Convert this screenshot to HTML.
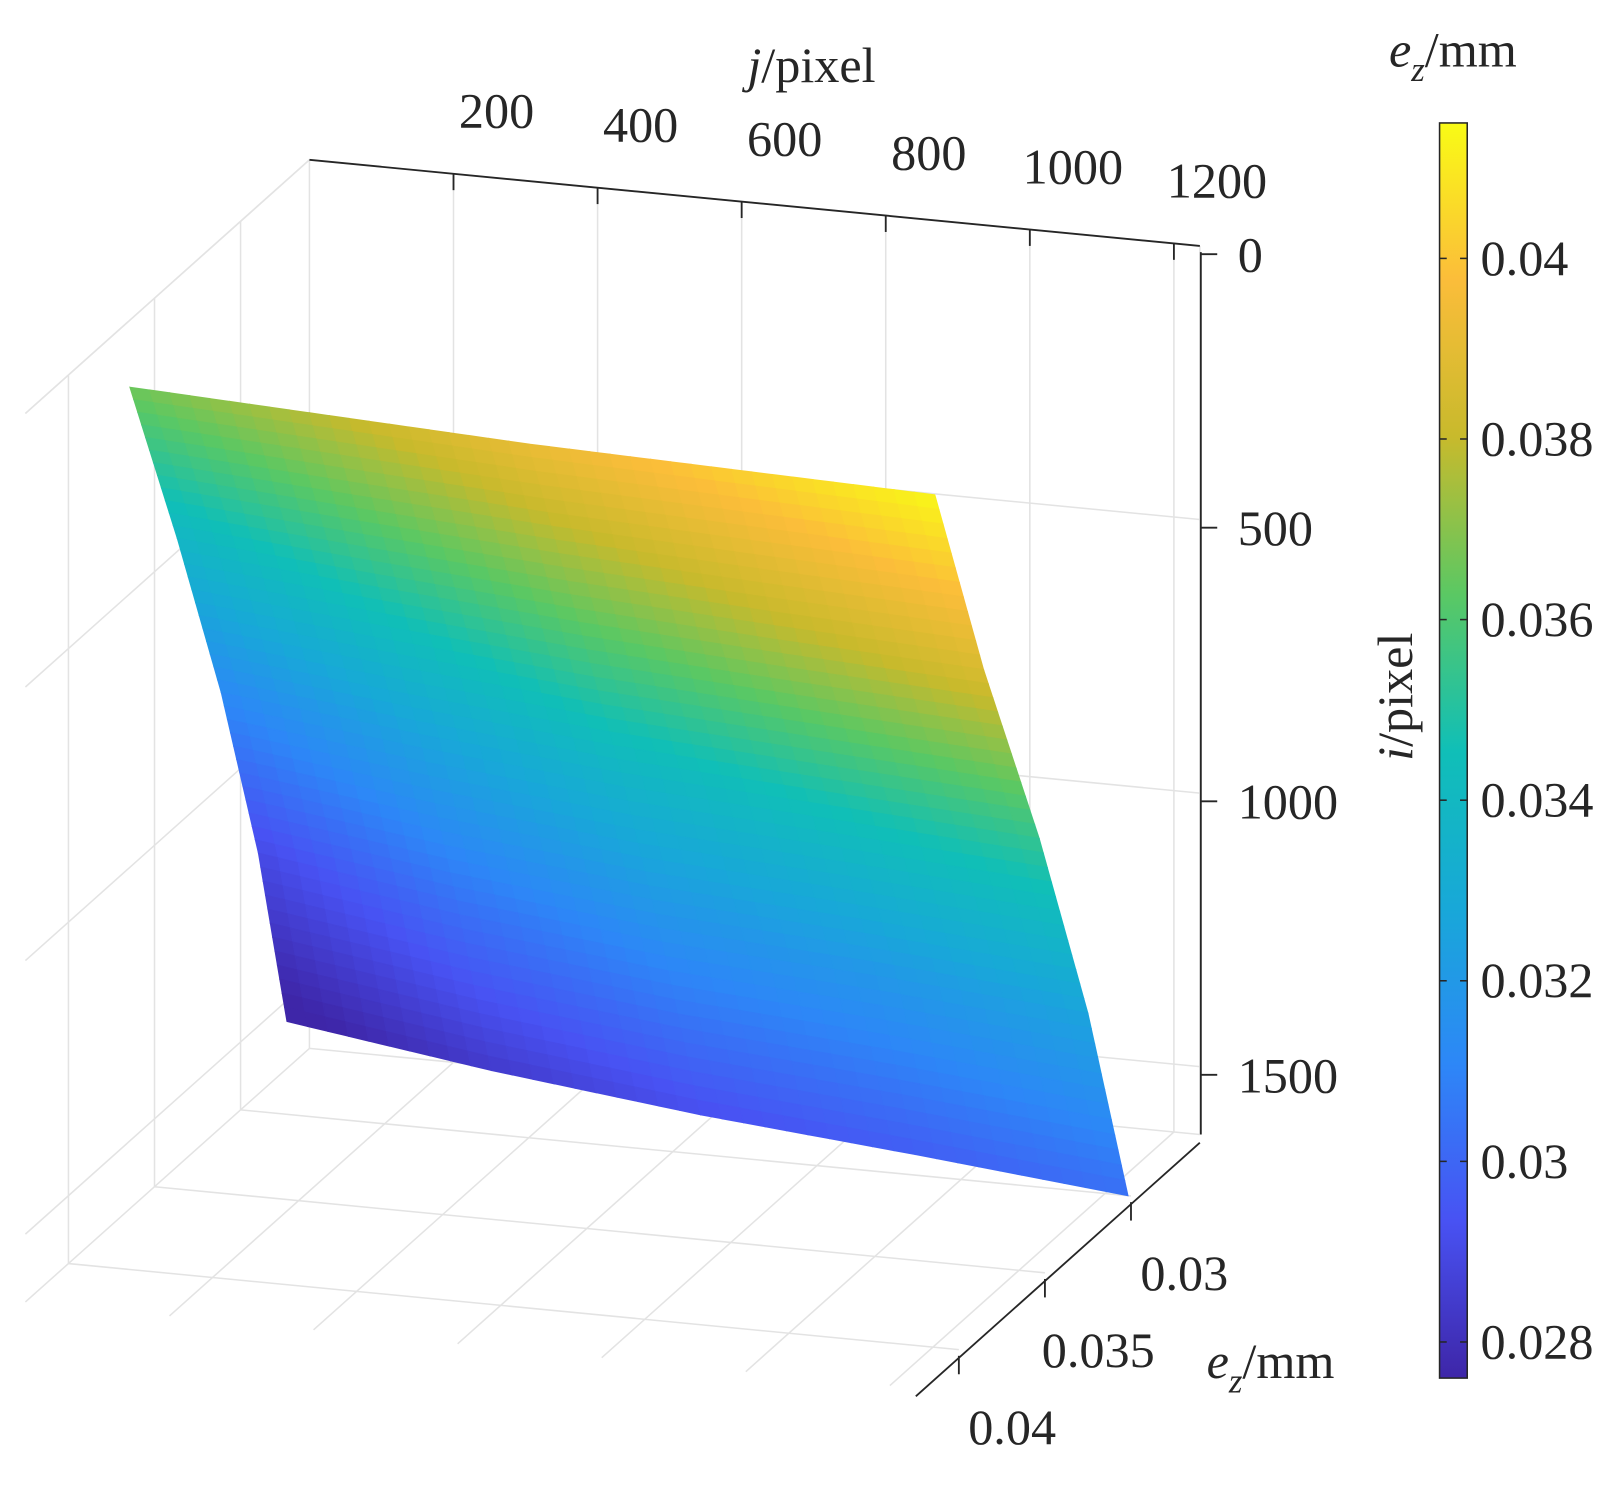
<!DOCTYPE html>
<html><head><meta charset="utf-8"><style>
html,body{margin:0;padding:0;background:#fff;}
svg text{font-family:"Liberation Serif",serif;font-size:49px;fill:#262626;}
</style></head><body>
<svg id="chart" width="1604" height="1481" viewBox="0 0 1604 1481" xmlns="http://www.w3.org/2000/svg">
<defs>
<linearGradient id="parula" x1="0" y1="1" x2="0" y2="0">
<stop offset="0" stop-color="#3e26a8"/><stop offset="0.125" stop-color="#4852f3"/>
<stop offset="0.25" stop-color="#2d87f7"/><stop offset="0.375" stop-color="#18a8d8"/>
<stop offset="0.5" stop-color="#10bfb7"/><stop offset="0.625" stop-color="#5bc863"/>
<stop offset="0.75" stop-color="#c8ba2c"/><stop offset="0.875" stop-color="#fbbd3a"/>
<stop offset="1" stop-color="#f9fb15"/>
</linearGradient>
</defs>
<g transform="scale(1.0246)">
<g id="grid"></g>
<g id="surf"></g>
<g id="axes"></g>
<g id="cbar"></g>
</g>
</svg>
<script>
const jTicks=[200,400,600,800,1000,1200];
const iTicks=[0,500,1000,1500];
const eTicks=[0.03,0.035,0.04];
const eTickLabels=["0.03","0.035","0.04"];
const cbTicks=[0.028,0.03,0.032,0.034,0.036,0.038,0.04];
const cbTickLabels=["0.028","0.03","0.032","0.034","0.036","0.038","0.04"];
const gridI=[0,400,800,1200,1600];
const gridJ=[0,309,618,927,1236];
const ezRows=[
[0.0366,0.0379,0.0392,0.0403,0.0414],
[0.0338,0.0352,0.0365,0.0376,0.0386],
[0.0312,0.0326,0.0338,0.0346,0.0354],
[0.0290,0.0304,0.0314,0.0319,0.0326],
[0.0273,0.0284,0.0292,0.0297,0.0303]];
const jMax=1236,iMax=1624,eMin=0.026,eMax=0.0425,cMin=0.0276,cMax=0.0415;
const NS="http://www.w3.org/2000/svg";
function P(j,i,e){return [302+0.7031*j-16800*(e-eMin),156+0.068*j+0.534*i+15000*(e-eMin)];}
function mk(tag,parent,attrs){const el=document.createElementNS(NS,tag);for(const k in attrs)el.setAttribute(k,attrs[k]);parent.appendChild(el);return el;}
function line(parent,a,b,stroke,w,name){const el=mk('line',parent,{x1:a[0],y1:a[1],x2:b[0],y2:b[1],stroke:stroke,'stroke-width':w});

return el;}
function text(parent,x,y,str,name,anchor){const el=mk('text',parent,{x:x,y:y,'text-anchor':anchor||'start'});el.textContent=str;

return el;}
const G=document.getElementById('grid'),S=document.getElementById('surf'),A=document.getElementById('axes'),C=document.getElementById('cbar');
const gc='#e3e3e3';
jTicks.forEach(j=>line(G,P(j,0,eMin),P(j,iMax,eMin),gc,1.5,'grid-line'));
iTicks.forEach(i=>line(G,P(0,i,eMin),P(jMax,i,eMin),gc,1.5,'grid-line'));
eTicks.forEach(e=>line(G,P(0,0,e),P(0,iMax,e),gc,1.5,'grid-line'));
iTicks.forEach(i=>line(G,P(0,i,eMin),P(0,i,eMax),gc,1.5,'grid-line'));
jTicks.forEach(j=>line(G,P(j,iMax,eMin),P(j,iMax,eMax),gc,1.5,'grid-line'));
eTicks.forEach(e=>line(G,P(0,iMax,e),P(jMax,iMax,e),gc,1.5,'grid-line'));
line(G,P(0,iMax,eMin),P(0,iMax,eMax),gc,1.5,'grid-line');
line(G,P(0,0,eMin),P(0,iMax,eMin),gc,1.5,'grid-line');
line(G,P(jMax,0,eMin),P(jMax,iMax,eMin),gc,1.5,'grid-line');
line(G,P(0,iMax,eMin),P(jMax,iMax,eMin),gc,1.5,'grid-line');
line(G,P(0,0,eMin),P(0,0,eMax),gc,1.5,'grid-line');
const cStops=[[62,38,168],[72,82,243],[45,135,247],[24,168,216],[16,191,183],[91,200,99],[200,186,44],[251,189,58],[249,251,21]];
function cmap(v){let t=(v-cMin)/(cMax-cMin);t=Math.max(0,Math.min(1,t))*8;const k=Math.min(7,Math.floor(t)),f=t-k;
const a=cStops[k],b=cStops[k+1];return 'rgb('+a.map((x,n)=>Math.round(x+(b[n]-x)*f)).join(',')+')';}
function ez(i,j){let r=0;while(r<gridI.length-2&&i>gridI[r+1])r++;let c=0;while(c<gridJ.length-2&&j>gridJ[c+1])c++;
const u=(i-gridI[r])/(gridI[r+1]-gridI[r]),v=(j-gridJ[c])/(gridJ[c+1]-gridJ[c]);
return ezRows[r][c]*(1-u)*(1-v)+ezRows[r+1][c]*u*(1-v)+ezRows[r][c+1]*(1-u)*v+ezRows[r+1][c+1]*u*v;}
function SP(j,i){const p=P(j,i,ez(i,j));const u=i/gridI[4],v=j/jMax;
const dy=63*(1-u)*(1-v)+12*(1-u)*v-33*u*(1-v)+8*u*v;
const dx=3*(1-u)*(1-v)+2*u*v;
return [p[0]+dx,p[1]+dy];}
const NI=48,NJ=40;
for(let a=0;a<NI;a++)for(let b=0;b<NJ;b++){
const i0=gridI[4]*a/NI,i1=gridI[4]*(a+1)/NI;
const j0=jMax*b/NJ,j1=jMax*(b+1)/NJ;
const pts=[[j0,i0],[j1,i0],[j1,i1],[j0,i1]].map(q=>SP(q[0],q[1]));
const col=cmap(ez((i0+i1)/2,(j0+j1)/2));
const el=mk('polygon',S,{points:pts.map(p=>p.join(',')).join(' '),fill:col,stroke:col,'stroke-width':1.2});


}
const ac='#262626';
line(A,P(0,0,eMin),P(jMax,0,eMin),ac,1.8,'j-axis-line');
jTicks.forEach((j,k)=>{const p=P(j,0,eMin);line(A,p,[p[0],p[1]+16],ac,1.8,'j-tick');
text(A,p[0]+42,p[1]-45,String(j),'j-tick-label','middle');});
text(A,792,80,'','j-axis-title','middle').innerHTML='<tspan font-style="italic">j</tspan>/pixel';
line(A,[1172,P(jMax,0,eMin)[1]+6],[1172,P(jMax,iMax,eMin)[1]],ac,1.8,'i-axis-line');
iTicks.forEach(i=>{const y=P(jMax,i,eMin)[1]+8;line(A,[1172,y],[1188,y],ac,1.8,'i-tick');
text(A,1208,y+17,String(i),'i-tick-label','start');});
const it=text(A,0,0,'','i-axis-title','middle');it.setAttribute('transform','translate(1378,680) rotate(-90)');it.innerHTML='<tspan font-style="italic">i</tspan>/pixel';
const e0=P(jMax,iMax,eMin),e1=P(jMax,iMax,eMax);
line(A,[e0[0],e0[1]+8],[e1[0],e1[1]+8],ac,1.8,'ez-axis-line');
eTicks.forEach((e,k)=>{const p=P(jMax,iMax,e);const q=[p[0],p[1]+6];line(A,q,[q[0],q[1]+18],ac,1.8,'ez-tick');
text(A,q[0]+52,q[1]+86,eTickLabels[k],'ez-tick-label','middle');});
text(A,1240,1345,'','ez-axis-title','middle').innerHTML='<tspan font-style="italic">e</tspan><tspan font-style="italic" font-size="34" dy="14">z</tspan><tspan dy="-14">/mm</tspan>';
const cbX=1405,cbW=27,cbTop=120,cbBot=1345;
const cy=v=>cbBot-(v-cMin)/(cMax-cMin)*(cbBot-cbTop);
const r=mk('rect',C,{x:cbX,y:cbTop,width:cbW,height:cbBot-cbTop,fill:'url(#parula)',stroke:ac,'stroke-width':1.5});


cbTicks.forEach((v,k)=>{const y=cy(v);line(C,[cbX,y],[cbX+7,y],ac,1.5,'colorbar-tick');line(C,[cbX+cbW-7,y],[cbX+cbW,y],ac,1.5,'colorbar-tick');
text(C,1445,y+16,cbTickLabels[k],'colorbar-tick-label','start');});
text(C,1418,65,'','colorbar-title','middle').innerHTML='<tspan font-style="italic">e</tspan><tspan font-style="italic" font-size="34" dy="14">z</tspan><tspan dy="-14">/mm</tspan>';
</script>
</body></html>
